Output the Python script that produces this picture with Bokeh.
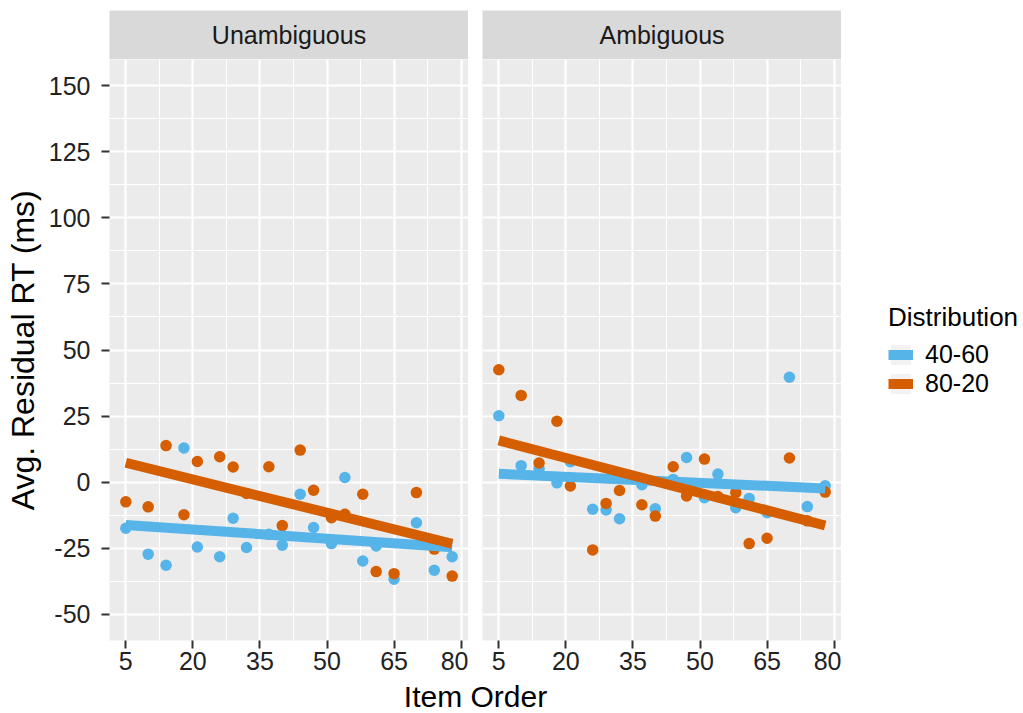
import numpy as np
from bokeh.plotting import figure
from bokeh.models import FixedTicker, Legend, LegendItem, ColumnDataSource, Range1d
from bokeh.layouts import row, column
from bokeh.embed import file_html
from bokeh.resources import INLINE
from bokeh.core.properties import value

# ---------------- data ----------------
item_order = [5, 10, 14, 18, 21, 26, 29, 32, 37, 40, 44, 47, 51, 54, 58, 61, 65, 70, 74, 78]
unamb_4060 = [-17.5, -27.3, -31.5, 12.9, -24.6, -28.3, -13.7, -24.8, -19.8, -23.9,
              -4.6, -17.2, -23.3, 1.7, -29.9, -24.2, -36.8, -15.4, -33.4, -28.3]
unamb_8020 = [-7.5, -9.4, 13.8, -12.4, 7.8, 9.6, 5.7, -4.3, 5.8, -16.5,
              12.1, -3.1, -13.5, -12.2, -4.6, -33.9, -34.7, -4.0, -25.4, -35.6]
amb_4060 = [25.1, 6.2, 5.0, -0.3, 7.7, -10.3, -10.6, -13.9, -1.0, -10.1,
            1.0, 9.3, -5.9, 3.0, -9.7, -6.2, -11.6, 39.7, -9.3, -1.4]
amb_8020 = [42.5, 32.8, 7.2, 23.0, -1.5, -25.7, -8.1, -3.2, -8.6, -12.9,
            5.8, -5.3, 8.7, -5.5, -4.0, -23.3, -21.3, 9.1, -14.7, -3.8]

panels = ["Unambiguous", "Ambiguous"]
distributions = ["40-60", "80-20"]
x_ticks = [5, 20, 35, 50, 65, 80]
y_ticks = [-50, -25, 0, 25, 50, 75, 100, 125, 150]
y_limits = (-50, 150)
x_label = "Item Order"
y_label = "Avg. Residual RT (ms)"
legend_title = "Distribution"

panel_data = {
    "Unambiguous": {"40-60": unamb_4060, "80-20": unamb_8020},
    "Ambiguous": {"40-60": amb_4060, "80-20": amb_8020},
}

# ---------------- style ----------------
FONT = "Liberation Sans"
COLORS = {"40-60": "#56B4E9", "80-20": "#D55E00"}
PANEL_BG = "#EBEBEB"
STRIP_BG = "#D9D9D9"
FRAME_W = 359
FRAME_H = 581
LEFT_W = 109
GAP_W = 14
BOTTOM_W = 39
TICK_FS = "25px"
POINT_SIZE = 11.5
LINE_W = 10

xmin, xmax = min(item_order), max(item_order)
xpad = 0.05 * (xmax - xmin)
ypad = 0.05 * (y_limits[1] - y_limits[0])
X_RANGE = (xmin - xpad, xmax + xpad)
Y_RANGE = (y_limits[0] - ypad, y_limits[1] + ypad)


def midpoints(t):
    return [(a + b) / 2 for a, b in zip(t[:-1], t[1:])]


x_minor = midpoints(x_ticks)
y_minor = midpoints(y_ticks)


def blank_fig(fw, fh, **kw):
    f = figure(frame_width=fw, frame_height=fh, x_range=Range1d(0, 1), y_range=Range1d(0, 1),
               x_axis_location=None, y_axis_location=None, toolbar_location=None,
               output_backend="svg", min_border=0, **kw)
    f.grid.visible = False
    f.outline_line_color = None
    f.background_fill_color = "white"
    f.border_fill_color = "white"
    return f


def make_strip(label, left):
    s = blank_fig(FRAME_W, 49, min_border_left=left, min_border_top=10)
    s.background_fill_color = STRIP_BG
    s.text(x=[0.5], y=[0.5], text=[label], text_align="center", text_baseline="middle",
           text_font=value(FONT), text_font_size="25px", text_color="#1A1A1A")
    return s


def style_axis(ax, ticks):
    ax.ticker = FixedTicker(ticks=ticks)
    ax.major_label_overrides = {t: str(t) for t in ticks}
    ax.axis_line_color = None
    ax.major_tick_line_color = "#333333"
    ax.major_tick_line_width = 2
    ax.major_tick_out = 8
    ax.major_tick_in = 0
    ax.minor_tick_out = 0
    ax.minor_tick_in = 0
    ax.major_label_text_font = FONT
    ax.major_label_text_font_size = TICK_FS
    ax.major_label_text_color = "#222222"


def make_panel(name, left, show_y):
    p = figure(frame_width=FRAME_W, frame_height=FRAME_H,
               x_range=Range1d(*X_RANGE), y_range=Range1d(*Y_RANGE),
               y_axis_location="left" if show_y else None,
               toolbar_location=None, output_backend="svg",
               min_border=0, min_border_left=left, min_border_bottom=BOTTOM_W)
    p.background_fill_color = PANEL_BG
    p.border_fill_color = "white"
    p.outline_line_color = None

    p.xgrid.ticker = FixedTicker(ticks=x_ticks, minor_ticks=x_minor)
    p.ygrid.ticker = FixedTicker(ticks=y_ticks, minor_ticks=y_minor)
    for g in (p.xgrid, p.ygrid):
        g.grid_line_color = "white"
        g.grid_line_width = 2.2
        g.minor_grid_line_color = "white"
        g.minor_grid_line_width = 1.1

    style_axis(p.xaxis[0], x_ticks)
    p.xaxis.major_label_standoff = 3

    if show_y:
        style_axis(p.yaxis[0], y_ticks)
        p.yaxis.major_label_standoff = 11
        p.yaxis.axis_label = y_label
        p.yaxis.axis_label_text_font = FONT
        p.yaxis.axis_label_text_font_size = "32px"
        p.yaxis.axis_label_text_font_style = "normal"
        p.yaxis.axis_label_text_color = "black"
        p.yaxis.axis_label_standoff = 5

    data = panel_data[name]
    for d in distributions:
        p.scatter(item_order, data[d], size=POINT_SIZE, fill_color=COLORS[d], line_color=None)
    for d in distributions:
        coef = np.polyfit(item_order, data[d], 1)
        xs = np.array([xmin, xmax])
        p.line(xs, np.polyval(coef, xs), line_width=LINE_W, line_color=COLORS[d])
    return p


s1 = make_strip(panels[0], LEFT_W)
s2 = make_strip(panels[1], GAP_W)
p1 = make_panel(panels[0], LEFT_W, True)
p2 = make_panel(panels[1], GAP_W, False)

# legend figure (proxy renderers use the data, which lies outside this figure's 0..1 ranges)
lg = blank_fig(180, FRAME_H, min_border_bottom=BOTTOM_W)
items = []
for d in distributions:
    src = ColumnDataSource(dict(x=item_order, y=panel_data[panels[0]][d]))
    bg = lg.rect(x="x", y="y", width=1, height=1, source=src, fill_color="#F2F2F2", line_color=None)
    ln = lg.line(x="x", y="y", source=src, line_color=COLORS[d], line_width=LINE_W)
    pt = lg.scatter(x="x", y="y", source=src, size=POINT_SIZE, fill_color=COLORS[d], line_color=None)
    items.append(LegendItem(label=d, renderers=[bg, ln, pt]))
legend = Legend(items=items, title=legend_title, location="center_left",
                margin=47, padding=8, spacing=-3,
                glyph_width=25, glyph_height=25, label_standoff=12,
                title_standoff=7, border_line_color=None, background_fill_alpha=0,
                title_text_font=FONT, title_text_font_size="26px", title_text_font_style="normal",
                title_text_color="black",
                label_text_font=FONT, label_text_font_size="25px", label_text_color="black")
lg.add_layout(legend)

# x-axis title spanning both panels
tf = blank_fig(2 * FRAME_W + GAP_W, 713 - (59 + FRAME_H + BOTTOM_W), min_border_left=LEFT_W)
tf.text(x=[0.5], y=[0.5], text=[x_label], text_align="center", text_baseline="middle",
        text_font=value(FONT), text_font_size="30px", text_color="black")

layout = column(row(s1, s2), row(p1, p2, lg), tf)

open("out.html", "w").write(file_html(layout, INLINE))
